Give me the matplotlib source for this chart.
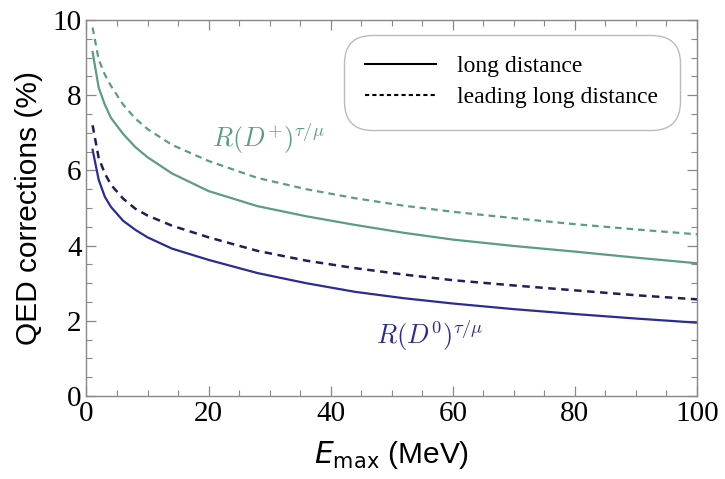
import matplotlib
matplotlib.use("Agg")
import matplotlib.pyplot as plt
from matplotlib.ticker import MultipleLocator
from matplotlib.lines import Line2D

plt.rcParams['mathtext.fontset'] = 'cm'

# Data
e_max = [1, 2, 3, 4, 6, 8, 10, 14, 20, 28, 36, 44, 52, 60, 70, 80, 90, 100]
dplus_long = [9.15, 8.2, 7.75, 7.4, 6.97, 6.62, 6.35, 5.92, 5.45, 5.05, 4.78, 4.55, 4.34, 4.16,
              3.99, 3.84, 3.68, 3.53]
dplus_leading = [9.8, 8.95, 8.55, 8.25, 7.75, 7.38, 7.1, 6.68, 6.25, 5.8, 5.5, 5.26, 5.06, 4.9,
                 4.73, 4.57, 4.43, 4.3]
dzero_long = [6.55, 5.75, 5.3, 5.03, 4.66, 4.42, 4.22, 3.92, 3.62, 3.27, 3.0, 2.77, 2.6, 2.46,
              2.31, 2.18, 2.06, 1.95]
dzero_leading = [7.2, 6.33, 5.92, 5.62, 5.25, 4.98, 4.8, 4.53, 4.22, 3.86, 3.6, 3.4, 3.23, 3.08,
                 2.94, 2.81, 2.68, 2.57]

x_ticks = [0, 20, 40, 60, 80, 100]
y_ticks = [0, 2, 4, 6, 8, 10]

green = '#5c9c86'
navy = '#2b2b96'
navy_dash = '#1e1e5a'

fig = plt.figure(figsize=(7.25, 4.79), dpi=100)
ax = fig.add_axes([0.1193, 0.1733, 0.8421, 0.7849])

kw = dict(solid_joinstyle='round', dash_joinstyle='round')
ax.plot(e_max, dplus_long, color=green, lw=1.6, **kw)
ax.plot(e_max, dplus_leading, color=green, lw=1.6, ls=(0, (3, 2.2)), **kw)
ax.plot(e_max, dzero_long, color=navy, lw=1.6, **kw)
ax.plot(e_max, dzero_leading, color=navy_dash, lw=1.8, ls=(0, (3, 2.2)), **kw)

ax.set_xlim(0, 100)
ax.set_ylim(0, 10)
ax.set_xticks(x_ticks)
ax.set_yticks(y_ticks)
ax.xaxis.set_minor_locator(MultipleLocator(5))
ax.yaxis.set_minor_locator(MultipleLocator(0.5))
ax.tick_params(which='both', direction='in', top=True, right=True, colors='#888888',
               labelcolor='black')
ax.tick_params(which='major', length=7, width=0.9)
ax.tick_params(which='minor', length=4, width=0.8)
for lab in ax.get_xticklabels() + ax.get_yticklabels():
    lab.set_family('Liberation Serif')
    lab.set_fontsize(21)
for sp in ax.spines.values():
    sp.set_color('#888888')
    sp.set_linewidth(1.0)

ax.set_xlabel(r'$\mathit{E}_{\mathrm{max}}$ (MeV)', fontsize=21.5, family='Liberation Sans', labelpad=9)
ax.set_ylabel('QED corrections (%)', fontsize=21.5, family='Liberation Sans', labelpad=7)
ax.xaxis.label.set_math_fontfamily('dejavusans')

ax.text(29.8, 6.86, r'$R(D^{+})^{\tau/\mu}$', color=green, fontsize=19, ha='center', va='center')
ax.text(56.3, 1.62, r'$R(D^{0})^{\tau/\mu}$', color=navy, fontsize=19, ha='center', va='center')

handles = [Line2D([], [], color='black', lw=1.5),
           Line2D([], [], color='black', lw=1.5, ls=(0, (2, 1.5)))]
leg = ax.legend(handles, ['long distance', 'leading long distance'], loc='upper right',
                bbox_to_anchor=(0.983, 0.98), prop={'family': 'Liberation Serif', 'size': 17},
                handlelength=3.0, handletextpad=0.9, borderpad=0.7, labelspacing=0.4,
                fancybox=True, framealpha=1, edgecolor='#bbbbbb')
leg.get_frame().set_boxstyle('round,pad=0.2,rounding_size=1.2')

fig.savefig('out.png', dpi=100)
